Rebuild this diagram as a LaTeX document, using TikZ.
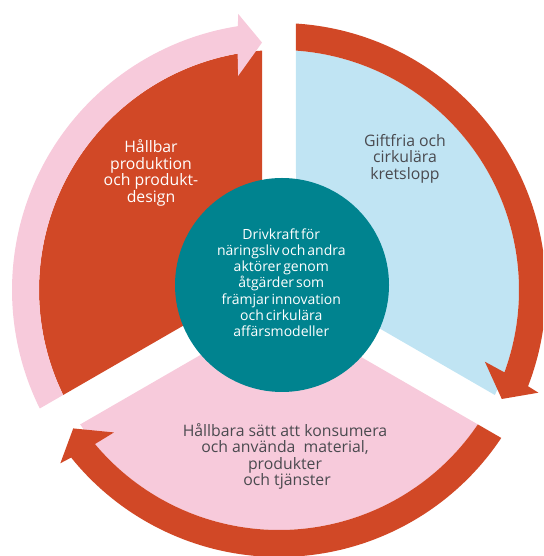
\documentclass[tikz,border=0pt]{standalone}
\usepackage{fontspec}
\setmainfont{Open Sans}
\newfontfamily\tightfont[WordSpace=0.55]{Open Sans}
\definecolor{rust}{HTML}{D14826}
\definecolor{rosa}{HTML}{F7CADB}
\definecolor{ljusbla}{HTML}{C0E4F3}
\definecolor{kricka}{HTML}{00838F}
\definecolor{textgra}{HTML}{4A4A4F}
\newcommand{\ringpil}[3]{%
  \fill[#1] ({#2-4.06}:240pt) -- ({#2-3.65}:267pt)
    arc[start angle={#2-3.65}, end angle={#3+8.87}, radius=267pt]
    -- ({#3+8.4}:279pt) -- ({#3+3.93}:248pt) -- ({#3+10.8}:218pt)
    -- ({#3+9.93}:240pt)
    arc[start angle={#3+9.93}, end angle={#2-4.06}, radius=240pt] -- cycle;}
\tikzset{
  ytext/.style={align=center, inner sep=0pt, font=\fontsize{15.8}{16.6}\selectfont},
  ktext/.style={align=center, inner sep=0pt, text=white, font=\tightfont\fontsize{14}{16.3}\selectfont}
}
\begin{document}
\begin{tikzpicture}
\useasboundingbox (0,0) rectangle (543pt,556pt);
\clip (0,0) rectangle (543pt,556pt);
\begin{scope}[shift={(279pt,266pt)}]
  % sectors
  \fill[rust] (150:19.63pt) -- (94.06:240pt) arc[start angle=94.06, end angle=205.94, radius=240pt] -- cycle;
  \fill[ljusbla] (30:19.63pt) -- (-25.94:240pt) arc[start angle=-25.94, end angle=85.94, radius=240pt] -- cycle;
  \fill[rosa] (270:19.63pt) -- (214.06:240pt) arc[start angle=214.06, end angle=325.94, radius=240pt] -- cycle;
  % ring arrows
  \ringpil{rosa}{210}{90}
  \ringpil{rust}{90}{-30}
  \ringpil{rust}{330}{210}
\end{scope}
\node[circle, fill=kricka, minimum size=214pt, inner sep=0pt] (karna) at (282pt,271pt) {};
\node[ktext] (drivkraft) at (281.3pt,273.3pt) {Drivkraft för\\näringsliv och andra\\aktörer genom\\åtgärder som\\främjar innovation\\och cirkulära\\affärsmodeller};
\node[ytext, text=white] (produktion) at (151pt,383pt) {Hållbar\\produktion\\och produkt-\\design};
\node[ytext, text=textgra] (giftfria) at (405pt,397.3pt) {Giftfria och\\cirkulära\\kretslopp};
\node[ytext, text=textgra] (konsumera) at (285pt,99.6pt) {Hållbara sätt att konsumera\\och använda \ material,\\produkter\\\ och tjänster};
\end{tikzpicture}
\end{document}
